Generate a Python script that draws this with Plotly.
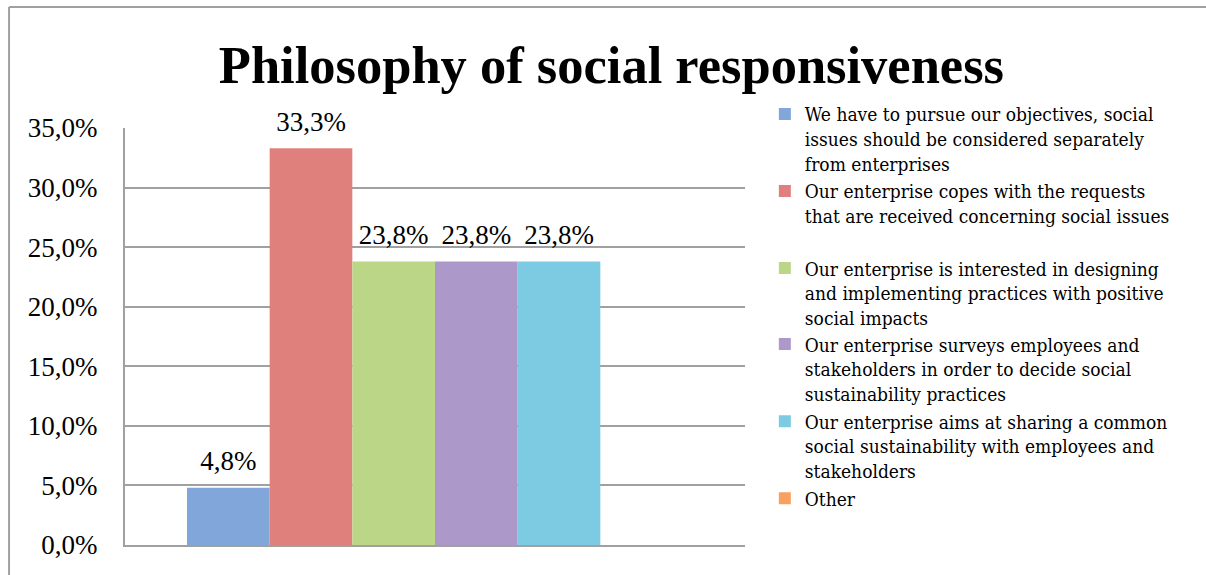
import plotly.graph_objects as go

categories = ["Philosophy of social responsiveness"]
series_names = [
    "We have to pursue our objectives, social<br>issues should be considered separately<br>from enterprises",
    "Our enterprise copes with the requests<br>that are received concerning social issues<br> ",
    "Our enterprise is interested in designing<br>and implementing practices with positive<br>social impacts",
    "Our enterprise surveys employees and<br>stakeholders in order to decide social<br>sustainability practices",
    "Our enterprise aims at sharing a common<br>social sustainability with employees and<br>stakeholders",
    "Other",
]
values = [0.048, 0.333, 0.238, 0.238, 0.238, 0.0]
colors = ["#80a6da", "#e0807d", "#bcd688", "#ac98c9", "#7ccbe2", "#f8a060"]
legend_ids = ["legend", "legend", "legend", "legend2", "legend2", "legend2"]
y_ticks = [0, 0.05, 0.10, 0.15, 0.20, 0.25, 0.30, 0.35]

FONT = "Liberation Serif"
LEGEND_FONT = dict(family="DejaVu Serif Condensed", size=19, color="black")

fig = go.Figure()
for i, (name, v, c, lg) in enumerate(zip(series_names, values, colors, legend_ids)):
    fig.add_trace(go.Bar(
        x=categories, y=[v], name=name, offsetgroup=str(i), legend=lg,
        marker=dict(color=c, line=dict(width=0)),
    ))
    fig.add_trace(go.Scatter(
        x=categories, y=[v], mode="markers+text", offsetgroup=str(i),
        text=[f"{v*100:.1f}%".replace(".", ",") if v > 0 else ""],
        textposition="top center", cliponaxis=False,
        marker=dict(size=16, opacity=0), showlegend=False, hoverinfo="skip",
        textfont=dict(family=FONT, size=27, color="black"),
    ))

legend_common = dict(xanchor="left", yanchor="top", font=LEGEND_FONT,
                     traceorder="normal", itemwidth=30, tracegroupgap=0,
                     valign="top", bgcolor="rgba(0,0,0,0)")

fig.update_layout(
    width=1206, height=575,
    margin=dict(l=125, r=461, t=128, b=30),
    paper_bgcolor="white", plot_bgcolor="white",
    separators=",.",
    barmode="group", bargap=0.2, bargroupgap=0,
    scattermode="group", scattergap=0.2,
    title=dict(text="<b>Philosophy of social responsiveness</b>",
               font=dict(family=FONT, size=52.5, color="black"),
               x=0.507, xref="container", xanchor="center",
               y=0.887, yref="container", yanchor="middle"),
    font=dict(family=FONT, color="black"),
    showlegend=True,
    legend=dict(x=1.032, y=1.079, **legend_common),
    legend2=dict(x=1.032, y=0.527, **legend_common),
    xaxis=dict(showticklabels=False, showline=True, linecolor="#a0a0a0",
               linewidth=2, ticks="", showgrid=False, zeroline=False),
    yaxis=dict(range=[0, 0.35], tickvals=y_ticks, tickformat=".1%",
               showgrid=True, gridcolor="#a0a0a0", gridwidth=2,
               showline=True, linecolor="#a0a0a0", linewidth=2,
               zeroline=False, ticks="", ticklabelstandoff=20,
               tickfont=dict(family=FONT, size=27, color="black")),
    shapes=[
        dict(type="line", xref="paper", yref="paper",
             x0=-0.187, x1=-0.187, y0=-0.2, y1=1.290,
             line=dict(color="#a0a0a0", width=2)),
        dict(type="line", xref="paper", yref="paper",
             x0=-0.187, x1=1.8, y0=1.290, y1=1.290,
             line=dict(color="#a0a0a0", width=2)),
    ],
)

fig.write_html("out.html")
